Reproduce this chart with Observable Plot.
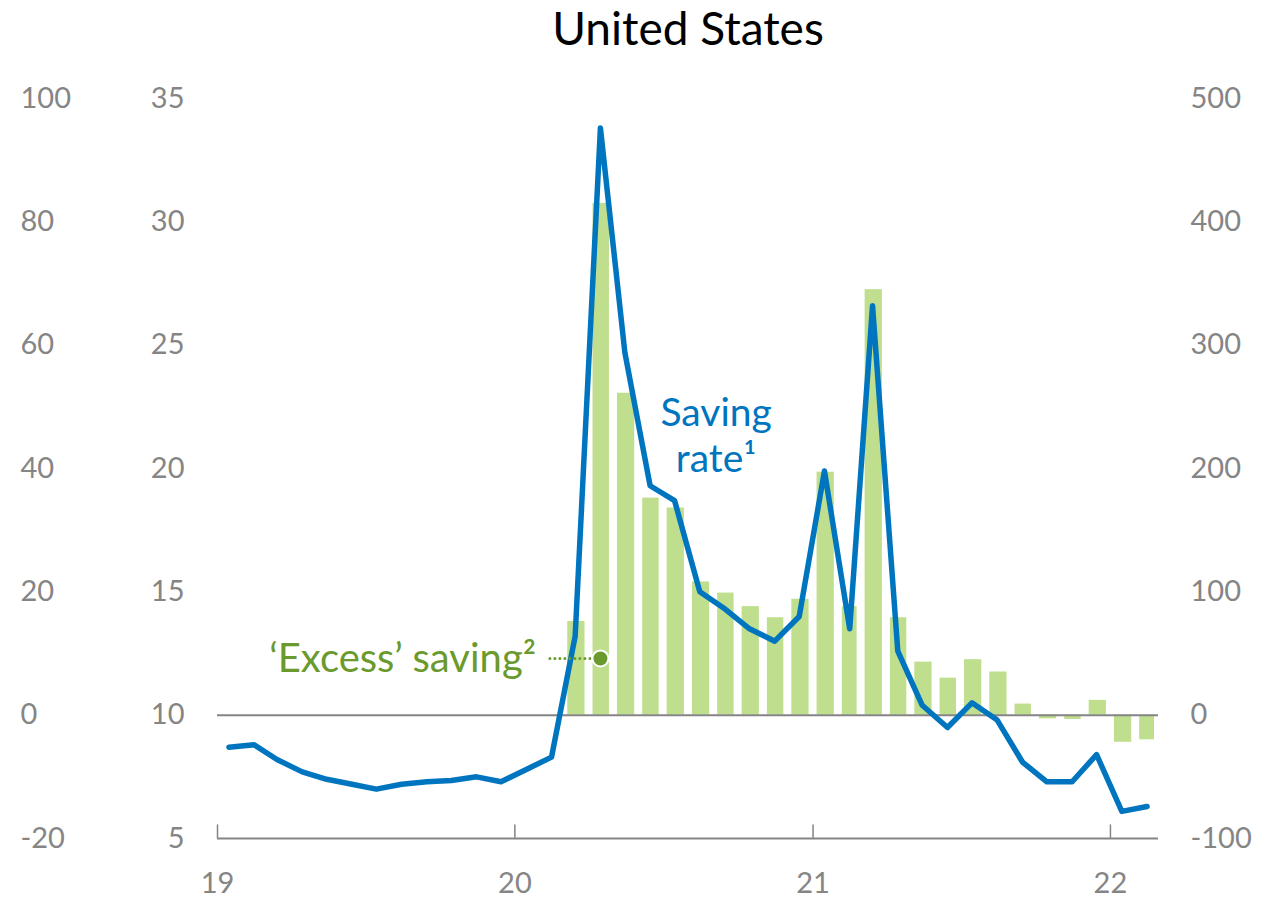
<!DOCTYPE html>
<html><head><meta charset="utf-8">
<script src="https://cdn.jsdelivr.net/npm/d3@7"></script>
<script src="https://cdn.jsdelivr.net/npm/@observablehq/plot@0.6"></script>
<style>
html,body{margin:0;padding:0;background:#fff;overflow:hidden}
#title{font-family:Lato,"Open Sans",sans-serif;font-size:46px;line-height:55px;height:55px;text-align:center;color:#000;padding-left:98px;}
#chart svg{display:block}
</style></head><body>
<div id="title">United States</div>
<div id="chart"></div>
<script>
// Saving rate (%), monthly from Jan 2019 to Feb 2022 (middle axis)
const lineStart = "2019-01";
const savingRate = [8.7, 8.8, 8.2, 7.7, 7.4, 7.2, 7.0, 7.2, 7.3, 7.35, 7.5, 7.3,
  7.8, 8.3, 13.2, 33.8, 24.7, 19.3, 18.7, 15.0, 14.3, 13.5, 13.0, 14.0,
  19.9, 13.5, 26.6, 12.6, 10.4, 9.5, 10.5, 9.8, 8.1, 7.3, 7.3, 8.4,
  6.1, 6.3];
// 'Excess' saving (USD bn), monthly from Mar 2020 to Feb 2022 (right axis)
const barStart = "2020-03";
const excessSaving = [76, 415, 261, 176, 168, 108, 99, 88, 79, 94,
  197, 88, 345, 79, 43, 30, 45, 35, 9, -3, -3.5, 12,
  -22, -20];
const leftTicks = [-20, 0, 20, 40, 60, 80, 100];
const midTicks = [5, 10, 15, 20, 25, 30, 35];
const rightTicks = [-100, 0, 100, 200, 300, 400, 500];
const yearTicks = ["2019-01-01", "2020-01-01", "2021-01-01", "2022-01-01"];
const yearLabels = ["19", "20", "21", "22"];
const xDomain = ["2019-01-01", "2022-03-01"];

// the three axes share one scale: mid value = 10 + left/4 = 10 + right/20
const fromLeft = v => 10 + v / 4;
const fromRight = v => 10 + v / 20;

const parseM = d3.utcParse("%Y-%m");
const parseD = d3.utcParse("%Y-%m-%d");
const lineData = savingRate.map((v, i) => ({
  date: d3.utcDay.offset(d3.utcMonth.offset(parseM(lineStart), i), 14), v}));
const barData = excessSaving.map((v, i) => ({
  start: d3.utcMonth.offset(parseM(barStart), i),
  end: d3.utcMonth.offset(parseM(barStart), i + 1), v}));
const years = yearTicks.map(parseD);

const blue = "#0075bf", barGreen = "#bfdf8e", textGreen = "#6a9a2d", grey = "#858585";

const annSaving = [{x: parseD("2020-09-04"), y: 21.4, t: "Saving\nrate¹"}];
const annExcess = [{x: parseD("2020-01-27"), y: 12.25, t: "‘Excess’ saving²"}];
const leader = [{x1: parseD("2020-02-13"), x2: parseD("2020-04-07"), y: 12.3}];
const leaderDot = [{x: parseD("2020-04-15"), y: 12.3}];

const chart = Plot.plot({
  width: 1278,
  height: 846,
  marginLeft: 217,
  marginRight: 120,
  marginTop: 43,
  marginBottom: 63,
  style: {fontFamily: "Lato, 'Open Sans', sans-serif", fontSize: "29px", background: "#fff"},
  x: {type: "utc", domain: xDomain.map(parseD)},
  y: {domain: [5, 35]},
  marks: [
    Plot.rectY(barData, {x1: "start", x2: "end", y1: fromRight(0), y2: d => fromRight(d.v), fill: barGreen, insetLeft: 4, insetRight: 4}),
    Plot.ruleY([fromRight(0)], {stroke: grey, strokeWidth: 2}),
    Plot.ruleY([5], {stroke: grey, strokeWidth: 2}),
    Plot.ruleX(years, {y1: 5, y2: 5.55, stroke: grey, strokeWidth: 1.5}),
    Plot.line(lineData, {x: "date", y: "v", stroke: blue, strokeWidth: 5.5, strokeLinejoin: "round", strokeLinecap: "round"}),
    Plot.link(leader, {x1: "x1", x2: "x2", y1: "y", y2: "y", stroke: textGreen, strokeWidth: 3, strokeDasharray: "0,5", strokeLinecap: "round"}),
    Plot.dot(leaderDot, {x: "x", y: "y", r: 8, fill: textGreen, fillOpacity: 1, stroke: "#ffffff", strokeWidth: 2}),
    Plot.text(annSaving, {x: "x", y: "y", text: "t", fill: blue, fontSize: 39, lineHeight: 1.2, textAnchor: "middle"}),
    Plot.text(annExcess, {x: "x", y: "y", text: "t", fill: textGreen, fontSize: 40, textAnchor: "end"}),
    Plot.axisY(leftTicks.map(fromLeft), {anchor: "left", tickSize: 0, tickPadding: 0, dx: -197, textAnchor: "start",
      tickFormat: d => String(Math.round((d - 10) * 4)), color: grey, fontSize: 29}),
    Plot.axisY(midTicks, {anchor: "left", tickSize: 0, tickPadding: 33, tickFormat: d => String(d), color: grey, fontSize: 29}),
    Plot.axisY(rightTicks.map(fromRight), {anchor: "right", tickSize: 0, tickPadding: 32,
      tickFormat: d => String(Math.round((d - 10) * 20)), color: grey, fontSize: 29}),
    Plot.axisX(years, {anchor: "bottom", tickSize: 0, tickPadding: 34, tickFormat: (d) => yearLabels[years.findIndex(y => +y === +d)], color: grey, fontSize: 29})
  ]
});
document.getElementById("chart").appendChild(chart);
</script></body></html>
